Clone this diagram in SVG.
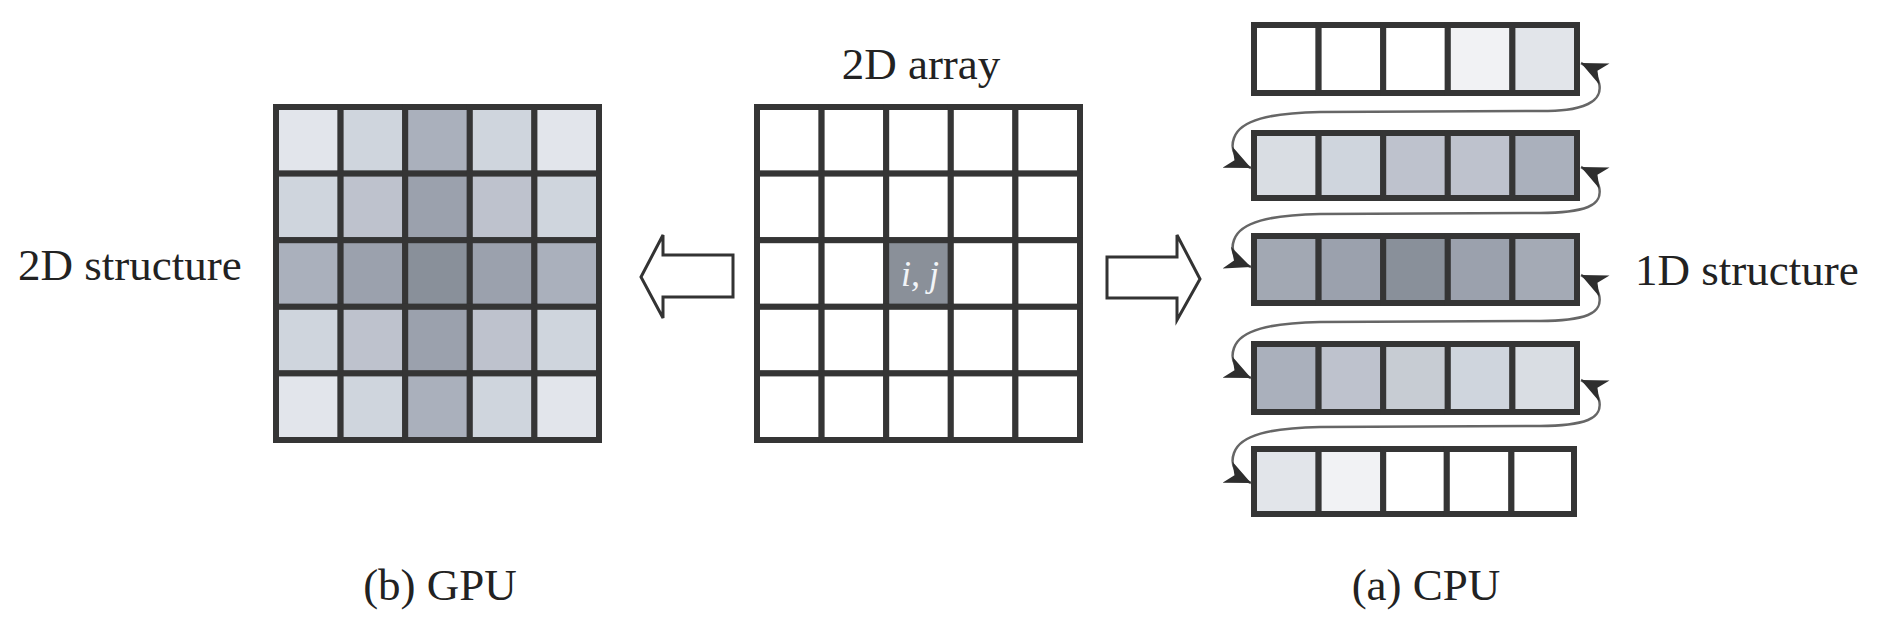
<svg xmlns="http://www.w3.org/2000/svg" width="1877" height="633" viewBox="0 0 1877 633">
<style>
.c{stroke:#353535;stroke-width:6}
.t{font-family:"Liberation Serif",serif;font-size:45px;fill:#222}
.blk{fill:#fff;stroke:#333;stroke-width:3;stroke-linejoin:miter}
.cv{fill:none;stroke:#666;stroke-width:2.5;marker-start:url(#ah);marker-end:url(#ah)}
</style>
<defs>
<marker id="ah" viewBox="0 0 10 10" refX="10" refY="5" markerWidth="26" markerHeight="26" markerUnits="userSpaceOnUse" orient="auto-start-reverse">
<path d="M0,0.5 L10,5 L0,9.5 L3,5 z" fill="#2e2e2e"/>
</marker>
</defs>
<rect width="1877" height="633" fill="#fff"/>

<g id="gpu-grid">
<rect class="c" x="276" y="107" width="64.6" height="66.6" fill="#e2e5eb"/>
<rect class="c" x="340.6" y="107" width="64.6" height="66.6" fill="#cfd5dd"/>
<rect class="c" x="405.2" y="107" width="64.6" height="66.6" fill="#aab0bc"/>
<rect class="c" x="469.8" y="107" width="64.6" height="66.6" fill="#cfd5dd"/>
<rect class="c" x="534.4" y="107" width="64.6" height="66.6" fill="#e2e5eb"/>
<rect class="c" x="276" y="173.6" width="64.6" height="66.6" fill="#cfd5dd"/>
<rect class="c" x="340.6" y="173.6" width="64.6" height="66.6" fill="#bec2cd"/>
<rect class="c" x="405.2" y="173.6" width="64.6" height="66.6" fill="#9ba1ad"/>
<rect class="c" x="469.8" y="173.6" width="64.6" height="66.6" fill="#bec2cd"/>
<rect class="c" x="534.4" y="173.6" width="64.6" height="66.6" fill="#cfd5dd"/>
<rect class="c" x="276" y="240.2" width="64.6" height="66.6" fill="#aab0bc"/>
<rect class="c" x="340.6" y="240.2" width="64.6" height="66.6" fill="#9ba1ad"/>
<rect class="c" x="405.2" y="240.2" width="64.6" height="66.6" fill="#89909a"/>
<rect class="c" x="469.8" y="240.2" width="64.6" height="66.6" fill="#9ba1ad"/>
<rect class="c" x="534.4" y="240.2" width="64.6" height="66.6" fill="#aab0bc"/>
<rect class="c" x="276" y="306.8" width="64.6" height="66.6" fill="#cfd5dd"/>
<rect class="c" x="340.6" y="306.8" width="64.6" height="66.6" fill="#bec2cd"/>
<rect class="c" x="405.2" y="306.8" width="64.6" height="66.6" fill="#9ba1ad"/>
<rect class="c" x="469.8" y="306.8" width="64.6" height="66.6" fill="#bec2cd"/>
<rect class="c" x="534.4" y="306.8" width="64.6" height="66.6" fill="#cfd5dd"/>
<rect class="c" x="276" y="373.4" width="64.6" height="66.6" fill="#e2e5eb"/>
<rect class="c" x="340.6" y="373.4" width="64.6" height="66.6" fill="#cfd5dd"/>
<rect class="c" x="405.2" y="373.4" width="64.6" height="66.6" fill="#aab0bc"/>
<rect class="c" x="469.8" y="373.4" width="64.6" height="66.6" fill="#cfd5dd"/>
<rect class="c" x="534.4" y="373.4" width="64.6" height="66.6" fill="#e2e5eb"/>
</g>

<g id="array-grid" fill="#fff">
<rect class="c" x="757" y="107" width="64.6" height="66.6"/>
<rect class="c" x="821.6" y="107" width="64.6" height="66.6"/>
<rect class="c" x="886.2" y="107" width="64.6" height="66.6"/>
<rect class="c" x="950.8" y="107" width="64.6" height="66.6"/>
<rect class="c" x="1015.4" y="107" width="64.6" height="66.6"/>
<rect class="c" x="757" y="173.6" width="64.6" height="66.6"/>
<rect class="c" x="821.6" y="173.6" width="64.6" height="66.6"/>
<rect class="c" x="886.2" y="173.6" width="64.6" height="66.6"/>
<rect class="c" x="950.8" y="173.6" width="64.6" height="66.6"/>
<rect class="c" x="1015.4" y="173.6" width="64.6" height="66.6"/>
<rect class="c" x="757" y="240.2" width="64.6" height="66.6"/>
<rect class="c" x="821.6" y="240.2" width="64.6" height="66.6"/>
<rect class="c" x="886.2" y="240.2" width="64.6" height="66.6" fill="#8a9099"/>
<rect class="c" x="950.8" y="240.2" width="64.6" height="66.6"/>
<rect class="c" x="1015.4" y="240.2" width="64.6" height="66.6"/>
<rect class="c" x="757" y="306.8" width="64.6" height="66.6"/>
<rect class="c" x="821.6" y="306.8" width="64.6" height="66.6"/>
<rect class="c" x="886.2" y="306.8" width="64.6" height="66.6"/>
<rect class="c" x="950.8" y="306.8" width="64.6" height="66.6"/>
<rect class="c" x="1015.4" y="306.8" width="64.6" height="66.6"/>
<rect class="c" x="757" y="373.4" width="64.6" height="66.6"/>
<rect class="c" x="821.6" y="373.4" width="64.6" height="66.6"/>
<rect class="c" x="886.2" y="373.4" width="64.6" height="66.6"/>
<rect class="c" x="950.8" y="373.4" width="64.6" height="66.6"/>
<rect class="c" x="1015.4" y="373.4" width="64.6" height="66.6"/>
<text x="920" y="286" text-anchor="middle" font-family="Liberation Serif, serif" font-style="italic" font-size="36" fill="#f2f5f8">i, j</text>
</g>

<g id="cpu-row1">
<rect class="c" x="1254" y="25" width="64.6" height="68" fill="#fff"/>
<rect class="c" x="1318.6" y="25" width="64.6" height="68" fill="#fff"/>
<rect class="c" x="1383.2" y="25" width="64.6" height="68" fill="#fff"/>
<rect class="c" x="1447.8" y="25" width="64.6" height="68" fill="#f1f2f4"/>
<rect class="c" x="1512.4" y="25" width="64.6" height="68" fill="#e2e5ea"/>
</g>
<g id="cpu-row2">
<rect class="c" x="1254" y="133" width="64.6" height="65" fill="#d9dde3"/>
<rect class="c" x="1318.6" y="133" width="64.6" height="65" fill="#cfd5dd"/>
<rect class="c" x="1383.2" y="133" width="64.6" height="65" fill="#bec2cd"/>
<rect class="c" x="1447.8" y="133" width="64.6" height="65" fill="#bec2cd"/>
<rect class="c" x="1512.4" y="133" width="64.6" height="65" fill="#aab0bc"/>
</g>
<g id="cpu-row3">
<rect class="c" x="1254" y="236" width="64.6" height="67" fill="#a2a8b3"/>
<rect class="c" x="1318.6" y="236" width="64.6" height="67" fill="#9ba1ad"/>
<rect class="c" x="1383.2" y="236" width="64.6" height="67" fill="#89909a"/>
<rect class="c" x="1447.8" y="236" width="64.6" height="67" fill="#9ba1ad"/>
<rect class="c" x="1512.4" y="236" width="64.6" height="67" fill="#a4aab5"/>
</g>
<g id="cpu-row4">
<rect class="c" x="1254" y="344" width="64.6" height="68" fill="#aab0bc"/>
<rect class="c" x="1318.6" y="344" width="64.6" height="68" fill="#bec2cd"/>
<rect class="c" x="1383.2" y="344" width="64.6" height="68" fill="#c7ccd3"/>
<rect class="c" x="1447.8" y="344" width="64.6" height="68" fill="#cfd5dd"/>
<rect class="c" x="1512.4" y="344" width="64.6" height="68" fill="#d9dde3"/>
</g>
<g id="cpu-row5">
<rect class="c" x="1254" y="449" width="64.6" height="65" fill="#e2e5ea"/>
<rect class="c" x="1318.6" y="449" width="64.6" height="65" fill="#f1f2f4"/>
<rect class="c" x="1383.2" y="449" width="63.6" height="65" fill="#fff"/>
<rect class="c" x="1446.8" y="449" width="64.6" height="65" fill="#fff"/>
<rect class="c" x="1511.4" y="449" width="62.6" height="65" fill="#fff"/>
</g>

<g id="connectors">
<path class="cv" d="M1581,63 C1600,72 1608,95 1588,104 C1575,110 1560,111 1540,111 L1320,112 C1270,113 1240,120 1234,138 C1229,152 1238,162 1251,168"/>
<path class="cv" d="M1581,167 C1600,176 1608,199 1588,207 C1575,212 1560,213 1540,213 L1320,214 C1270,215 1240,222 1234,240 C1229,254 1238,262 1251,267"/>
<path class="cv" d="M1581,275 C1600,284 1608,307 1588,315 C1575,320 1560,321 1540,321 L1320,322 C1270,323 1240,330 1234,348 C1229,362 1238,372 1251,378"/>
<path class="cv" d="M1581,380 C1600,389 1608,412 1588,420 C1575,425 1560,426 1540,426 L1320,427 C1270,428 1240,435 1234,453 C1229,467 1238,477 1251,483"/>
<polygon class="blk" points="641,277 663,235 663,255 733,255 733,297 663,297 663,318"/>
<polygon class="blk" points="1107,257 1177,257 1177,235 1200,279 1177,320 1177,298 1107,298"/>
</g>

<g id="labels">
<text class="t" x="921" y="79" text-anchor="middle">2D array</text>
<text class="t" x="18" y="280">2D structure</text>
<text class="t" x="1635" y="285">1D structure</text>
<text class="t" x="440" y="600" text-anchor="middle">(b) GPU</text>
<text class="t" x="1426" y="600" text-anchor="middle">(a) CPU</text>
</g>
</svg>
